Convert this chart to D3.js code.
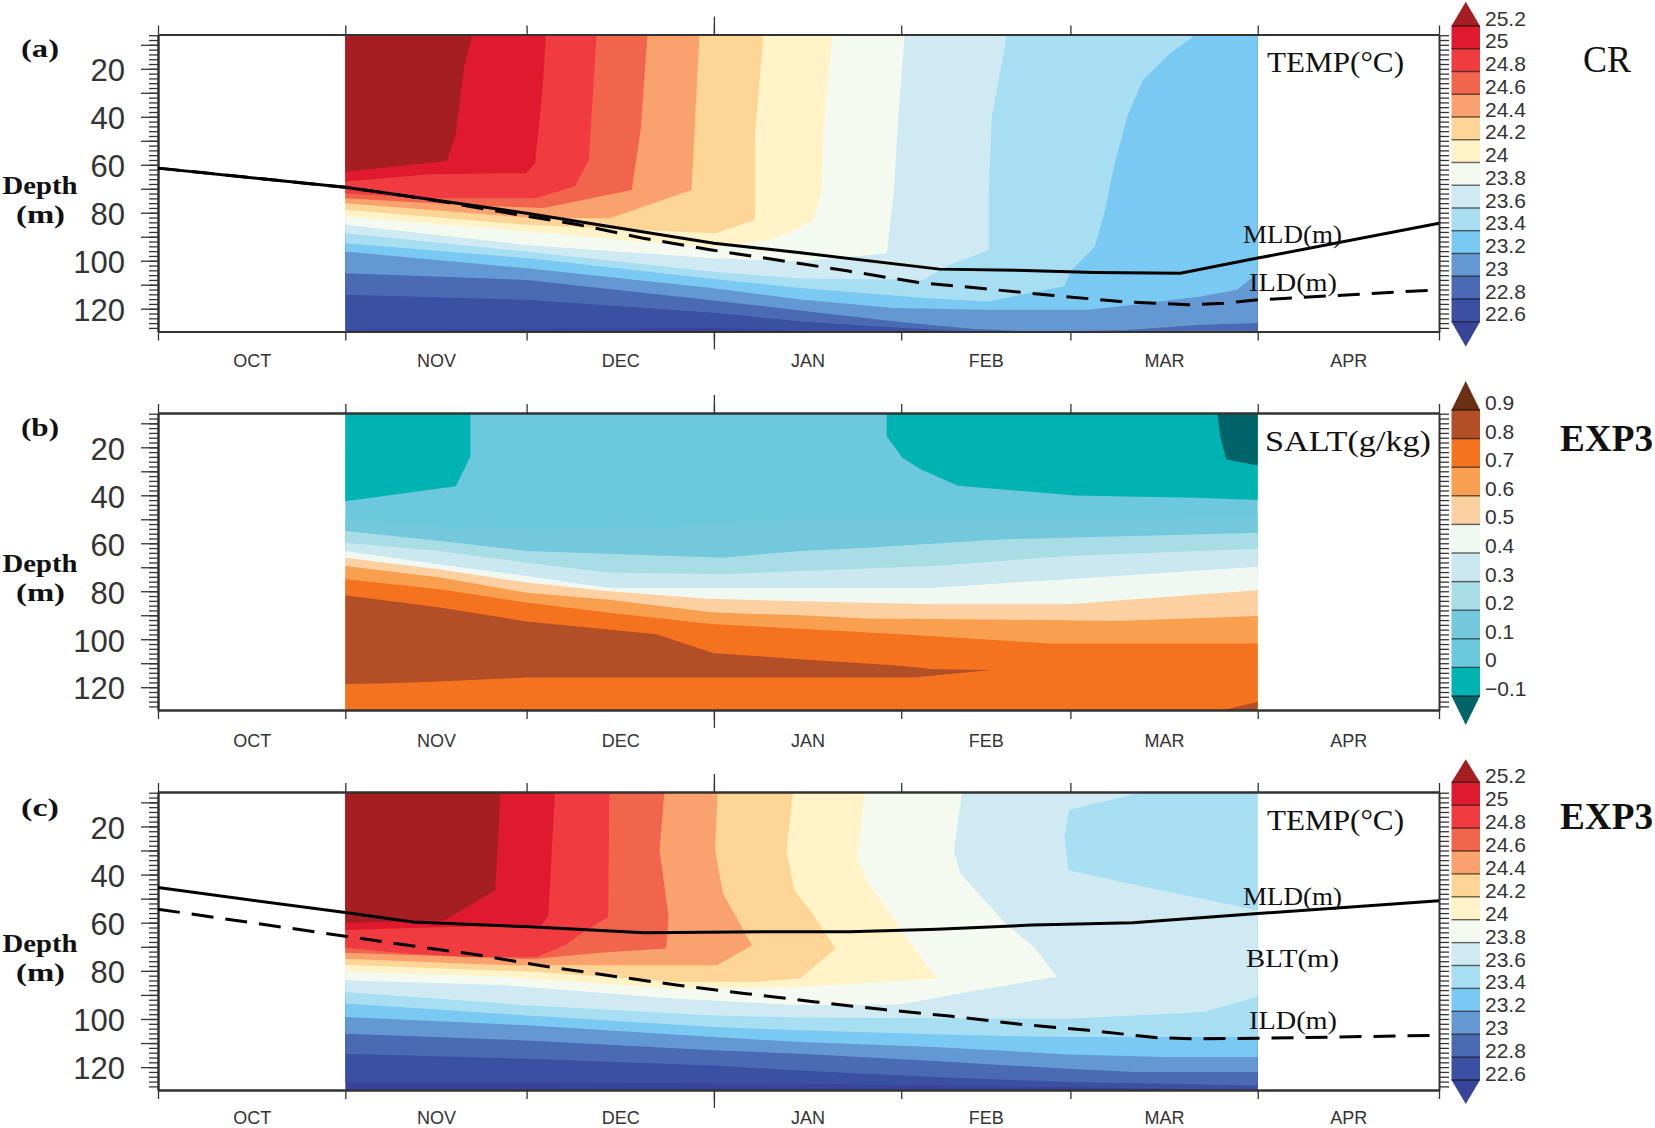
<!DOCTYPE html>
<html>
<head>
<meta charset="utf-8">
<script src="https://cdnjs.cloudflare.com/ajax/libs/d3/7.8.5/d3.min.js"></script>
<style>
  body { margin: 0; background: #fff; }
  .serif { font-family: "Liberation Serif", serif; fill: #111; }
  .sans { font-family: "Liberation Sans", sans-serif; fill: #333; }
</style>
</head>
<body>
<div id="root"></div>
<script>
// Time axis is in days since 1 Oct, depth in metres
const monthNames = ["OCT", "NOV", "DEC", "JAN", "FEB", "MAR", "APR"];
const monthStarts = [0, 31, 61, 92, 123, 151, 182, 212];
const depthLabels = [20, 40, 60, 80, 100, 120];

const tempLevels = [22.6, 22.8, 23, 23.2, 23.4, 23.6, 23.8, 24, 24.2, 24.4, 24.6, 24.8, 25, 25.2];
const tempColors = ["#38449a", "#3c50a3", "#4a6bb4", "#6498d3", "#79c9f2", "#a7def1", "#cfeaf3", "#f5faf0",
  "#fff3c7", "#fdd597", "#f9a26e", "#f1654d", "#f03c40", "#e01a2e", "#a51e22"];
const saltLevels = [-0.1, 0, 0.1, 0.2, 0.3, 0.4, 0.5, 0.6, 0.7, 0.8, 0.9];
const saltColors = ["#006468", "#00b3b3", "#6bc8dd", "#74c8dc", "#a8dde6", "#cbe8f0", "#f0f8f2",
  "#fdd0a2", "#f8a04f", "#f5731f", "#b24f26", "#6b2f14"];

// Isolines: [level, [[day, depth], ...]]
const crTemp = [
  [22.6, [[182, 129.5], [110, 129.5], [92, 128], [31, 128.8]]],
  [22.8, [[182, 129.5], [135, 129.5], [122, 127.8], [106.3, 125.3], [92, 121.7], [61, 116.3], [31, 114.2]]],
  [23, [[182, 126], [172.5, 126.7], [160, 129], [145, 129.5], [135, 128.5], [122, 125.3], [106.3, 120.7], [92, 116.6], [61, 108], [31, 105.2]]],
  [23.2, [[182, 105.2], [178.6, 112.1], [172.5, 114.9], [161.5, 118.4], [153.8, 120.4], [137.2, 120.4], [121.8, 119.7], [106.3, 116.2], [92, 111.5], [61, 103.1], [31, 96.2]]],
  [23.4, [[171.8, 5.7], [167.5, 13.6], [163, 24.7], [160.4, 40], [158.2, 60.8], [156.8, 78], [155.1, 94], [151.3, 103.8], [149.9, 110.7], [137.2, 117], [127.3, 115.6], [106.3, 111.4], [92, 107.6], [61, 98.9], [31, 92.7]]],
  [23.6, [[140.5, 5.7], [138, 40], [137.5, 70.5], [137.5, 95.5], [131, 101.7], [126.7, 107.9], [106.3, 107.4], [92, 104.6], [61, 96.2], [31, 88.5]]],
  [23.8, [[123.6, 5.7], [122.5, 40], [121.8, 70.5], [120.6, 96.9], [106.3, 100.3], [92, 99], [61, 93.4], [31, 85]]],
  [24, [[111.6, 5.7], [110, 50], [109.9, 70], [108.5, 83], [106.3, 86], [101.3, 91.3], [92, 94.5], [61, 87.8], [31, 81.6]]],
  [24.2, [[100.2, 5.7], [98.8, 47], [98.8, 83], [92.2, 88.5], [61, 85], [31, 78.8]]],
  [24.4, [[89.6, 5.7], [88.3, 70.5], [74.8, 82.3], [61, 82], [31, 76]]],
  [24.6, [[81, 5.7], [79.9, 45], [78.4, 70.5], [63.8, 78], [52, 77], [31, 74]]],
  [24.8, [[72.6, 5.7], [71.3, 58], [69, 69.1], [62.4, 74], [45, 74], [31, 72]]],
  [25, [[64.2, 5.7], [63.6, 30], [62.4, 59.4], [60.9, 63.5], [45, 64], [31, 67]]],
  [25.2, [[52, 5.7], [50.6, 20], [49.3, 47], [47.8, 58.4], [31, 62.9]]]
];
const exp3Temp = [
  [22.6, [[182, 129.7], [150.5, 128.3], [106.3, 126.9], [61, 126.2], [31, 126.2]]],
  [22.8, [[182, 127.6], [150.5, 126.2], [128.4, 124.1], [106.3, 121.4], [92, 119.3], [61, 116.5], [31, 114.4]]],
  [23, [[182, 122], [161.5, 122], [150.5, 120.7], [128.4, 117.5], [106.3, 114.4], [92, 113], [61, 108.9], [31, 106.1]]],
  [23.2, [[182, 115.8], [166.5, 115.8], [150.5, 114.7], [128.4, 111.6], [106.3, 109.6], [92, 107.5], [61, 102.6], [31, 99.2]]],
  [23.4, [[182, 107.5], [150.4, 107.5], [133.9, 106.8], [106.3, 104.7], [92, 103.3], [61, 98.5], [31, 93.6]]],
  [23.6, [[182, 90.8], [173, 97.1], [161.5, 98.5], [150.4, 99.9], [106.3, 99.4], [92, 98.5], [61, 94.3], [31, 88.8]]],
  [23.8, [[133.1, 5.7], [131.7, 30], [132.8, 39.6], [140.3, 60.4], [144.9, 70], [148.8, 82.5], [133.9, 88.8], [122.9, 94], [106.3, 94.3], [85.3, 91.5], [57.7, 86], [31, 83.9]]],
  [24, [[117, 5.7], [115.7, 33], [117.5, 43.7], [120.1, 52], [124, 67], [129, 83.2], [106.3, 86.7], [85.3, 87.4], [57.7, 82.5], [31, 80.4]]],
  [24.2, [[105.1, 5.7], [104, 30], [105.3, 46.5], [108, 55], [112.1, 70.7], [106.3, 83.2], [99.1, 84.5], [85.3, 84.5], [63.2, 80.5], [31, 77.5]]],
  [24.4, [[92.6, 5.7], [92.2, 30], [93.5, 47.9], [98.3, 69.5], [92.5, 77.7], [74.3, 77.7], [57.7, 77.7], [31, 75]]],
  [24.6, [[83.8, 5.7], [83, 30], [84.5, 57.6], [84.1, 70.7], [73, 72.5], [62, 75.2], [31, 72.5]]],
  [24.8, [[74.7, 5.7], [74.5, 57.6], [71, 63], [67.4, 69.3], [62.7, 74.2], [52.2, 74.2], [41.1, 72.8], [31, 70.4]]],
  [25, [[65.7, 5.7], [64.6, 57], [63.5, 61], [45, 62], [31, 63]]],
  [25.2, [[56.7, 5.7], [55.8, 46.5], [47.5, 59], [31, 60]]]
];
// the cooler patch in the top right corner of panel c
const exp3TempPatches = [
  [23.5, [[182, 54.8], [163, 45], [150.7, 38.2], [150, 24.3], [150.8, 13.2], [163, 5.7], [182, 5.7]]]
];
const exp3Salt = [
  [0.1, [[31, 50.1], [47.7, 52.8], [64, 54.2], [85, 52.8], [106.3, 49.8], [140, 49.8], [182, 49]]],
  [0.2, [[31, 54.9], [46.7, 59.1], [61, 63.2], [93.6, 66], [106.3, 63.2], [117.3, 61.9], [139.4, 58.4], [161.5, 57], [182, 55.6]]],
  [0.3, [[31, 59.8], [46.7, 63.2], [61, 68.1], [74.3, 72.2], [93.6, 72.9], [106.3, 71.6], [128.4, 69.5], [150.5, 65.3], [182, 62.3]]],
  [0.4, [[31, 63.2], [46.7, 68.8], [61, 73.6], [74.3, 78.5], [92, 78.5], [106.3, 78.5], [128.4, 78.5], [150.5, 75], [182, 69.8]]],
  [0.5, [[31, 66], [46.7, 70.9], [61, 76.4], [74.3, 79.9], [90.8, 83.1], [106.3, 84.2], [128.4, 85.4], [150.5, 85.4], [161.5, 83.3], [182, 79.6]]],
  [0.6, [[31, 69.5], [46.7, 74.3], [61, 80.6], [74.3, 83.4], [92, 88.9], [106.3, 90], [117.3, 91.4], [150.5, 92.1], [158.7, 92.4], [182, 90.3]]],
  [0.7, [[31, 75], [46.7, 79.2], [61, 84.7], [74.3, 88.9], [92, 93.8], [106.3, 95.6], [122.9, 97.9], [147.7, 101.8], [182, 101.8]]]
];
const exp3SaltPatches = [
  [0.85, [[31, 81.7], [46.7, 86.8], [61, 92.6], [82.5, 97.9], [92, 105.8], [106.3, 108.3], [122.9, 111.1], [128.4, 112.5], [138, 112.8], [125, 116], [106.3, 116], [61, 116], [45.5, 117.7], [38.4, 118.4], [31, 118.7]]],
  [0.85, [[176.4, 129.5], [182, 126.1], [182, 129.5]]],
  [-0.05, [[31, 5.7], [51.7, 5.7], [51.7, 23.7], [49.3, 36.2], [31, 42.5]]],
  [-0.05, [[120.6, 5.7], [120.6, 15.4], [123.2, 24.4], [126.3, 29.3], [132.4, 36], [151.7, 40.1], [171.8, 41], [182, 42], [182, 5.7]]],
  [-0.15, [[175.3, 5.7], [175.8, 15.4], [176.8, 25.1], [182, 27.6], [182, 5.7]]]
];

// Line series: [day, depth]
const crMld = [[0, 61.4], [31, 69.4], [61, 80.2], [92, 92.7], [106, 96.6], [129.3, 103.5], [142, 104], [155, 104.9], [169.2, 105.2], [182, 98.9], [212, 84.4]];
const crIld = [[0, 61.4], [31, 69.4], [36.2, 71.2], [47.2, 75.4], [58.2, 80.2], [69.6, 85], [80.3, 90.6], [91.6, 95.5], [103, 99.9], [114, 104.2], [125.6, 109], [136.9, 111.7], [148.2, 114.5], [159.3, 117], [170.6, 118.4], [176.4, 117.7], [182, 116.3], [212, 112.1]];
const exp3Mld = [[0, 45.4], [31, 55.8], [42.2, 59.7], [61.5, 61.7], [80.4, 64.2], [100, 63.8], [114.4, 63.8], [128.9, 62.7], [144.7, 61], [161.3, 60], [182, 56.2], [212, 50.9]];
const exp3Ild = [[0, 54.4], [31, 65.6], [41.1, 69.3], [52.2, 73.1], [63.5, 77.9], [75.1, 82.1], [86.1, 86], [97.4, 89.5], [108.8, 92.9], [120.1, 96.1], [131.4, 98.9], [142.7, 102.2], [154, 104.7], [165.4, 107.8], [170.9, 108.2], [182, 108], [212, 106.8]];

const panels = [
  { tag: "(a)", top: 34.5, bottom: 331.5, depthY: 194, lbl: 57, monthPad: 22.5, barShift: -8,
    contours: crTemp, patches: [], closeAt: "top", levels: tempLevels, colors: tempColors,
    mld: crMld, ild: crIld, bar: [1.7, 26, 321.7, 346.7],
    title: ["TEMP(°C)", 1267, 72, 137], exp: ["CR", 1583, 72, false],
    notes: [["MLD(m)", 1243, 243, 99], ["ILD(m)", 1249, 291, 88]] },
  { tag: "(b)", top: 413, bottom: 710, depthY: 572, lbl: 436, monthPad: 24, barShift: -7.5,
    contours: exp3Salt, patches: exp3SaltPatches, closeAt: "bottom", levels: saltLevels, colors: saltColors,
    base: 0.05, bar: [381, 410, 696, 725],
    title: ["SALT(g/kg)", 1265, 451, 166], exp: ["EXP3", 1560, 451, true],
    notes: [] },
  { tag: "(c)", top: 792, bottom: 1090, depthY: 952, lbl: 816, monthPad: 21, barShift: -6.5,
    contours: exp3Temp, patches: exp3TempPatches, closeAt: "top", levels: tempLevels, colors: tempColors,
    mld: exp3Mld, ild: exp3Ild, bar: [759.3, 782.3, 1080, 1104],
    title: ["TEMP(°C)", 1267, 830, 137], exp: ["EXP3", 1560, 829, true],
    notes: [["MLD(m)", 1243, 905, 99], ["BLT(m)", 1246, 967, 93], ["ILD(m)", 1249, 1029, 88]] }
];

const depthTop = 5.7, depthBottom = 129.5;
const left = 158, right = 1439;

const svg = d3.select("#root").append("svg")
  .attr("width", 1655)
  .attr("height", 1128);

const x = d3.scaleLinear().domain([0, 212]).range([left, right]);

panels.forEach(function(p) {
  const y = d3.scaleLinear().domain([depthTop, depthBottom]).range([p.top, p.bottom]);
  const g = svg.append("g");
  const line = d3.line().x(d => x(d[0])).y(d => y(d[1]));
  const color = d3.scaleThreshold().domain(p.levels).range(p.colors);

  // Shaded field: start from the coldest (or freshest) band and paint over it
  const base = p.base !== undefined ? p.base : p.levels[0] - 0.1;
  g.append("path")
    .attr("d", line([[31, depthTop], [182, depthTop], [182, depthBottom], [31, depthBottom]]) + "Z")
    .attr("fill", color(base));

  const step = p.levels[1] - p.levels[0];
  const closeDepth = p.closeAt === "top" ? depthTop : depthBottom;
  p.contours.forEach(function(c) {
    const pts = c[1];
    const closed = pts.concat([[pts[pts.length - 1][0], closeDepth], [pts[0][0], closeDepth]]);
    g.append("path")
      .attr("d", line(closed) + "Z")
      .attr("fill", color(c[0] + step / 2));
  });
  p.patches.forEach(function(c) {
    g.append("path")
      .attr("d", line(c[1]) + "Z")
      .attr("fill", color(c[0]));
  });

  // Frame and ticks
  const axisStyle = function(sel) {
    sel.selectAll("path").attr("stroke", "#333").attr("stroke-width", 2);
    sel.selectAll("line").attr("stroke", "#333").attr("stroke-width", 1.3);
  };
  const longMonth = [92];
  g.append("g").attr("transform", "translate(0," + p.top + ")")
    .call(d3.axisTop(x).tickValues(monthStarts).tickSize(9).tickSizeOuter(0).tickFormat(""))
    .call(axisStyle);
  g.append("g").attr("transform", "translate(0," + p.top + ")")
    .call(d3.axisTop(x).tickValues(longMonth).tickSize(18).tickSizeOuter(0).tickFormat(""))
    .call(axisStyle);
  g.append("g").attr("transform", "translate(0," + p.bottom + ")")
    .call(d3.axisBottom(x).tickValues(monthStarts).tickSize(9).tickSizeOuter(0).tickFormat(""))
    .call(axisStyle);
  g.append("g").attr("transform", "translate(0," + p.bottom + ")")
    .call(d3.axisBottom(x).tickValues(longMonth).tickSize(18).tickSizeOuter(0).tickFormat(""))
    .call(axisStyle);

  // Month names sit in the middle of each month
  const monthMids = d3.pairs(monthStarts).map(d => (d[0] + d[1]) / 2);
  const monthAxis = g.append("g").attr("transform", "translate(0," + p.bottom + ")")
    .call(d3.axisBottom(x).tickValues(monthMids).tickSize(0).tickPadding(p.monthPad)
      .tickFormat((d, i) => monthNames[i]));
  monthAxis.select(".domain").remove();
  monthAxis.selectAll("text").attr("class", "sans").style("font-size", "18px");

  const minorTicks = d3.range(6, 130, 2);
  const midTicks = d3.range(10, 130, 10);
  g.append("g").attr("transform", "translate(" + left + ",0)")
    .call(d3.axisLeft(y).tickValues(minorTicks).tickSize(9).tickSizeOuter(0).tickFormat(""))
    .call(axisStyle);
  const leftAxis = g.append("g").attr("transform", "translate(" + left + ",0)")
    .call(d3.axisLeft(y).tickValues(midTicks).tickSize(17).tickSizeOuter(0).tickPadding(16)
      .tickFormat(d => depthLabels.includes(d) ? d : ""))
    .call(axisStyle);
  leftAxis.selectAll("text").attr("class", "sans").attr("dy", "0.38em").style("font-size", "31px");
  g.append("g").attr("transform", "translate(" + right + ",0)")
    .call(d3.axisRight(y).tickValues(minorTicks).tickSize(10).tickSizeOuter(0).tickFormat(""))
    .call(axisStyle);

  // MLD and ILD lines
  if (p.mld) {
    g.append("path").attr("d", line(p.mld))
      .attr("fill", "none").attr("stroke", "#000").attr("stroke-width", 3);
    g.append("path").attr("d", line(p.ild))
      .attr("fill", "none").attr("stroke", "#000").attr("stroke-width", 3)
      .attr("stroke-dasharray", "22,12");
  }

  // Text, stretched a little because the original lettering is wide
  const serifText = function(str, px, py, size, width, bold) {
    g.append("text").attr("class", "serif").attr("x", px).attr("y", py)
      .attr("textLength", width).attr("lengthAdjust", "spacingAndGlyphs")
      .style("font-size", size + "px").style("font-weight", bold ? "bold" : "normal")
      .text(str);
  };
  serifText(p.tag, 21, p.lbl, 26, 38, true);
  serifText("Depth", 2.5, p.depthY, 25, 75, true);
  serifText("(m)", 16, p.depthY + 29, 25, 49, true);
  serifText(p.title[0], p.title[1], p.title[2], 30, p.title[3], false);
  serifText(p.exp[0], p.exp[1], p.exp[2], 37, p.exp[3] ? 93 : 48, p.exp[3]);
  p.notes.forEach(function(n) {
    serifText(n[0], n[1], n[2], 26, n[3], false);
  });

  // Colour bar with triangular ends
  const barX0 = 1451.5, barX1 = 1480, barMid = (barX0 + barX1) / 2;
  const hi = p.levels[p.levels.length - 1], lo = p.levels[0];
  const barY = d3.scaleLinear().domain([hi, lo]).range([p.bar[1], p.bar[2]]);
  const bar = g.append("g");
  d3.pairs(p.levels).forEach(function(d) {
    bar.append("rect")
      .attr("x", barX0).attr("width", barX1 - barX0)
      .attr("y", barY(d[1])).attr("height", barY(d[0]) - barY(d[1]))
      .attr("fill", color((d[0] + d[1]) / 2));
  });
  bar.append("path")
    .attr("d", "M" + barX0 + "," + p.bar[1] + "L" + barMid + "," + p.bar[0] + "L" + barX1 + "," + p.bar[1] + "Z")
    .attr("fill", color(hi + step / 2));
  bar.append("path")
    .attr("d", "M" + barX0 + "," + p.bar[2] + "L" + barMid + "," + p.bar[3] + "L" + barX1 + "," + p.bar[2] + "Z")
    .attr("fill", color(lo - step / 2));
  p.levels.forEach(function(lev) {
    bar.append("line")
      .attr("x1", barX0).attr("x2", barX1).attr("y1", barY(lev)).attr("y2", barY(lev))
      .attr("stroke", "#000").attr("stroke-opacity", 0.6).attr("stroke-width", 1.4);
    bar.append("text").attr("class", "sans")
      .attr("x", 1485).attr("y", barY(lev) + p.barShift).attr("dy", "0.36em")
      .style("font-size", "21px")
      .text(String(lev).replace("-", "\u2212"));
  });
});
</script>
</body>
</html>
